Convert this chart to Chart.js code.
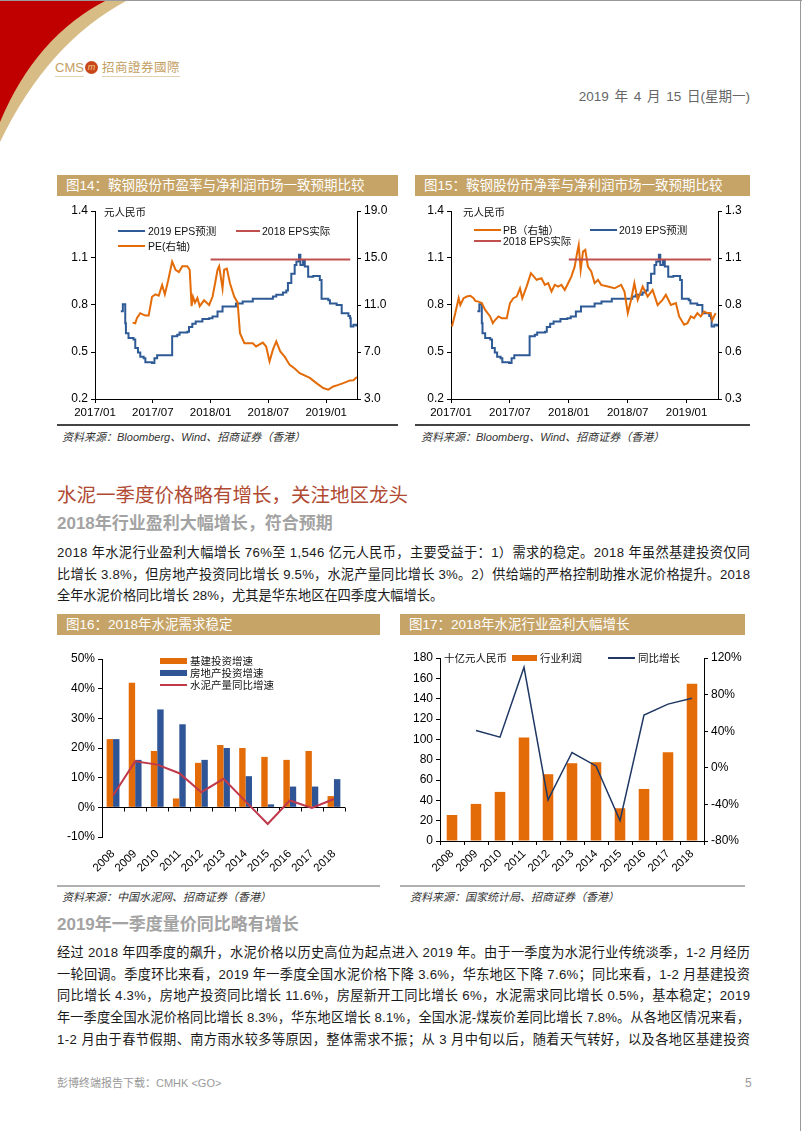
<!DOCTYPE html>
<html>
<head>
<meta charset="utf-8">
<script src="https://cdn.jsdelivr.net/npm/chart.js@4.4.1/dist/chart.umd.min.js"></script>
<style>
body { margin: 0; background: #fff; }
#page { position: relative; width: 802px; height: 1131px; overflow: hidden; background: #fff;
  font-family: "Liberation Sans", "Noto Sans CJK SC", sans-serif; color: #222; }
.t { position: absolute; white-space: nowrap; }
.hdr { position: absolute; height: 21px; background: #C6A467; color: #fff; font-size: 13.5px;
  line-height: 21px; padding-left: 9px; box-sizing: border-box; white-space: nowrap; }
.src { position: absolute; font-size: 11px; font-style: italic; color: #333; white-space: nowrap; line-height: 14px; }
.rule { position: absolute; }
.p { position: absolute; left: 57px; font-size: 13.2px; line-height: 20px; height: 20px;
  white-space: nowrap; color: #1a1a1a; }
.lg { position: absolute; font-size: 10.5px; line-height: 14px; white-space: nowrap; color: #111; }
.mk { position: absolute; }
canvas { position: absolute; }
</style>
</head>
<body>
<div id="page">
  <!-- corner decoration -->
  <svg class="t" style="left:0;top:0" width="160" height="160">
    <path d="M0,0 H128 Q48,42 0,142 Z" fill="#D8BC86"/>
    <path d="M0,0 H107 Q36,36 0,122 Z" fill="#C00000"/>
  </svg>
  <div style="position:absolute;left:0;top:0;width:802px;height:1px;background:#999"></div>
  <div style="position:absolute;left:800px;top:0;width:1px;height:1131px;background:#999"></div>

  <!-- logo -->
  <div class="t" style="left:55px;top:60px;font-size:13px;line-height:16px;color:#C4A064;border-bottom:1px solid #E3D3B0">CMS</div>
  <div class="t" style="left:85px;top:61px;width:13px;height:13px;border-radius:50%;background:#C8461A;color:#F6D08A;font-size:9px;line-height:13px;text-align:center;font-style:italic">m</div>
  <div class="t" style="left:102px;top:60px;font-size:12.5px;line-height:16px;color:#C4A064;letter-spacing:0.5px;border-bottom:1px solid #E3D3B0">招商證券國際</div>

  <div class="t" style="right:52px;top:89px;font-size:13.5px;line-height:16px;color:#666;word-spacing:2px">2019 年 4 月 15 日(星期一)</div>

  <!-- top chart headers -->
  <div class="hdr" style="left:57px;top:175px;width:341px">图14：鞍钢股份市盈率与净利润市场一致预期比较</div>
  <div class="hdr" style="left:415px;top:175px;width:335px">图15：鞍钢股份市净率与净利润市场一致预期比较</div>

  <canvas id="c14" width="343" height="220" style="left:57px;top:200px"></canvas>
  <canvas id="c15" width="343" height="220" style="left:407px;top:200px"></canvas>

  <!-- chart 14 legend -->
  <div class="lg" style="left:104px;top:205px">元人民币</div>
  <div class="mk" style="left:118px;top:230px;width:27px;height:2px;background:#2E5A96"></div>
  <div class="lg" style="left:148px;top:224px">2019 EPS预测</div>
  <div class="mk" style="left:236px;top:230px;width:24px;height:2px;background:#C0504D"></div>
  <div class="lg" style="left:262px;top:224px">2018 EPS实际</div>
  <div class="mk" style="left:118px;top:245px;width:27px;height:2px;background:#E36C09"></div>
  <div class="lg" style="left:148px;top:239px">PE(右轴)</div>

  <!-- chart 15 legend -->
  <div class="lg" style="left:463px;top:205px">元人民币</div>
  <div class="mk" style="left:474px;top:229px;width:27px;height:2px;background:#E36C09"></div>
  <div class="lg" style="left:503px;top:223px">PB（右轴）</div>
  <div class="mk" style="left:590px;top:229px;width:27px;height:2px;background:#2E5A96"></div>
  <div class="lg" style="left:619px;top:223px">2019 EPS预测</div>
  <div class="mk" style="left:474px;top:240px;width:27px;height:2px;background:#C0504D"></div>
  <div class="lg" style="left:503px;top:234px">2018 EPS实际</div>

  <div class="rule" style="left:57px;top:424px;width:341px;height:1.5px;background:#444"></div>
  <div class="rule" style="left:415px;top:424px;width:335px;height:1.5px;background:#444"></div>
  <div class="src" style="left:62px;top:430px">资料来源：Bloomberg、Wind、招商证券（香港）</div>
  <div class="src" style="left:421px;top:430px">资料来源：Bloomberg、Wind、招商证券（香港）</div>

  <!-- section text -->
  <div class="t" style="left:57px;top:481px;font-size:19.5px;line-height:28px;color:#B04A32">水泥一季度价格略有增长，关注地区龙头</div>
  <div class="t" style="left:57px;top:512px;font-size:17px;line-height:24px;color:#A3A3A3;font-weight:bold">2018年行业盈利大幅增长，符合预期</div>
  <div class="p fit" style="top:543px">2018 年水泥行业盈利大幅增长 76%至 1,546 亿元人民币，主要受益于：1）需求的稳定。2018 年虽然基建投资仅同</div>
  <div class="p fit" style="top:565px">比增长 3.8%，但房地产投资同比增长 9.5%，水泥产量同比增长 3%。2）供给端的严格控制助推水泥价格提升。2018</div>
  <div class="p" style="top:586px">全年水泥价格同比增长 28%，尤其是华东地区在四季度大幅增长。</div>

  <!-- bottom chart headers -->
  <div class="hdr" style="left:57px;top:614px;width:323px">图16：2018年水泥需求稳定</div>
  <div class="hdr" style="left:400px;top:614px;width:345px">图17：2018年水泥行业盈利大幅增长</div>

  <canvas id="c16" width="323" height="245" style="left:57px;top:640px"></canvas>
  <canvas id="c17" width="345" height="245" style="left:400px;top:640px"></canvas>

  <!-- chart 16 legend -->
  <div class="mk" style="left:160px;top:658px;width:27px;height:6px;background:#E36C09"></div>
  <div class="lg" style="left:190px;top:654px">基建投资增速</div>
  <div class="mk" style="left:160px;top:670px;width:27px;height:6px;background:#2F5597"></div>
  <div class="lg" style="left:190px;top:666px">房地产投资增速</div>
  <div class="mk" style="left:160px;top:684px;width:27px;height:2px;background:#C0394B"></div>
  <div class="lg" style="left:190px;top:678px">水泥产量同比增速</div>

  <!-- chart 17 legend -->
  <div class="lg" style="left:444px;top:651px">十亿元人民币</div>
  <div class="mk" style="left:512px;top:655px;width:25px;height:6px;background:#E36C09"></div>
  <div class="lg" style="left:540px;top:651px">行业利润</div>
  <div class="mk" style="left:608px;top:657px;width:27px;height:2px;background:#1F3864"></div>
  <div class="lg" style="left:638px;top:651px">同比增长</div>

  <div class="rule" style="left:57px;top:885px;width:323px;height:2px;background:#B0B0B0"></div>
  <div class="rule" style="left:400px;top:885px;width:345px;height:2px;background:#B0B0B0"></div>
  <div class="src" style="left:62px;top:890px">资料来源：中国水泥网、招商证券（香港）</div>
  <div class="src" style="left:410px;top:890px">资料来源：国家统计局、招商证券（香港）</div>

  <div class="t" style="left:57px;top:913px;font-size:17px;line-height:24px;color:#A3A3A3;font-weight:bold">2019年一季度量价同比略有增长</div>
  <div class="p fit" style="top:943px">经过 2018 年四季度的飙升，水泥价格以历史高位为起点进入 2019 年。由于一季度为水泥行业传统淡季，1-2 月经历</div>
  <div class="p fit" style="top:965px">一轮回调。季度环比来看，2019 年一季度全国水泥价格下降 3.6%，华东地区下降 7.6%；同比来看，1-2 月基建投资</div>
  <div class="p fit" style="top:986px">同比增长 4.3%，房地产投资同比增长 11.6%，房屋新开工同比增长 6%，水泥需求同比增长 0.5%，基本稳定；2019</div>
  <div class="p fit" style="top:1008px">年一季度全国水泥价格同比增长 8.3%，华东地区增长 8.1%，全国水泥-煤炭价差同比增长 7.8%。从各地区情况来看，</div>
  <div class="p fit" style="top:1030px">1-2 月由于春节假期、南方雨水较多等原因，整体需求不振；从 3 月中旬以后，随着天气转好，以及各地区基建投资</div>

  <div class="t" style="left:57px;top:1076px;font-size:11px;line-height:14px;color:#999">彭博终端报告下载：CMHK &lt;GO&gt;</div>
  <div class="t" style="left:745px;top:1076px;font-size:12px;line-height:14px;color:#999">5</div>
</div>

<script>
// ---- data: time series (x = months since 2017/01) ----
const monthTicks = ['2017/01', '2017/07', '2018/01', '2018/07', '2019/01'];

const epsMonths = [2.68, 2.89, 3.14, 3.21, 3.48, 4.0, 4.18, 4.46, 4.7, 5.05, 5.23, 5.92, 6.17, 6.45, 7.84, 8.01,
  8.54, 8.78, 9.58, 9.76, 10.1, 10.45, 11.15, 11.85, 12.2, 12.72, 13.24, 14.11, 14.63, 15.33, 16.38, 18.12,
  18.47, 18.82, 19.51, 19.86, 20.03, 20.38, 20.73, 20.91, 21.18, 21.32, 21.6, 21.78, 22.13, 22.65, 23.34,
  23.52, 24.22, 24.39, 25.09, 25.61, 26.31, 26.48, 26.55, 26.83, 27.11];
const epsValues = [0.76, 0.805, 0.684, 0.62, 0.59, 0.58, 0.525, 0.497, 0.47, 0.46, 0.434, 0.43, 0.46, 0.48, 0.48, 0.60,
  0.61, 0.625, 0.63, 0.66, 0.68, 0.695, 0.71, 0.716, 0.727, 0.759, 0.79, 0.79, 0.81, 0.822, 0.84, 0.84,
  0.854, 0.865, 0.88, 0.892, 0.94, 1.0, 1.056, 1.077, 1.12, 1.056, 1.088, 1.045, 0.98, 0.985, 0.96,
  0.84, 0.83, 0.81, 0.80, 0.748, 0.73, 0.716, 0.663, 0.674, 0.663];

const eps2018Months = [12, 26.5];
const eps2018Values = [1.09, 1.09];

const peMonths = [3.9, 4.18, 4.36, 4.7, 4.95, 5.23, 5.57, 5.75, 5.92, 6.27, 6.62, 6.97, 7.25, 7.6, 8.01, 8.36,
  8.71, 9.06, 9.58, 9.83, 10.03, 10.17, 10.38, 10.63, 10.87, 11.32, 11.85, 12.2, 12.47, 12.72, 12.89, 13.24,
  13.41, 13.69, 14.01, 14.46, 14.81, 15.05, 15.51, 16.38, 16.72, 17.42, 17.77, 18.12, 18.47, 18.82, 19.23,
  19.69, 20.21, 20.73, 21.25, 22.3, 22.99, 23.69, 24.22, 24.74, 25.26, 25.78, 26.48, 26.83, 27.2];
const peValues = [9.5, 9.45, 9.9, 10.3, 10.2, 10.1, 10.1, 10.9, 11.7, 11.9, 11.8, 12.7, 11.9, 13.1, 14.7, 14.0,
  13.8, 14.3, 14.3, 14.0, 10.9, 11.7, 11.2, 11.6, 10.9, 11.4, 11.0, 11.7, 12.85, 14.0, 14.3, 12.4,
  14.0, 14.1, 12.85, 11.7, 11.2, 8.6, 7.75, 7.75, 7.47, 7.8, 7.47, 6.2, 7.2, 7.9, 7.05,
  6.6, 5.9, 5.6, 5.2, 4.8, 4.35, 3.93, 3.8, 4.07, 4.2, 4.35, 4.58, 4.6, 4.87];

const pbMonths = [0.1, 0.44, 0.78, 0.95, 1.28, 1.62, 1.96, 2.3, 2.47, 2.8, 3.14, 3.48, 3.99, 4.26, 4.49, 4.83,
  5.17, 5.68, 6.01, 6.35, 6.69, 7.03, 7.26, 7.7, 8.14, 8.38, 8.72, 9.22, 9.56, 9.9, 10.24, 10.57, 10.91,
  11.25, 11.59, 11.93, 12.26, 12.6, 12.87, 13.01, 13.21, 13.45, 13.68, 13.95, 14.29, 14.63, 14.97, 15.3,
  15.98, 16.66, 17.33, 17.67, 18.01, 18.34, 18.68, 19.02, 19.53, 20.03, 20.54, 21.05, 21.55, 21.89, 22.4,
  22.91, 23.24, 23.75, 24.09, 24.43, 24.76, 25.1, 25.44, 25.78, 26.11, 26.45, 26.62, 26.96];
const pbValues = [0.686, 0.757, 0.836, 0.80, 0.836, 0.845, 0.849, 0.836, 0.822, 0.818, 0.81, 0.774, 0.739, 0.703, 0.72, 0.739,
  0.73, 0.73, 0.81, 0.836, 0.845, 0.889, 0.836, 0.898, 0.969, 0.955, 0.934, 0.942, 0.907, 0.916, 0.872, 0.907, 0.898,
  0.907, 0.88, 0.916, 0.951, 1.004, 1.084, 1.119, 0.987, 1.084, 1.093, 1.004, 0.978, 0.916, 0.934, 0.907,
  0.898, 0.889, 0.907, 0.872, 0.757, 0.827, 0.916, 0.827, 0.898, 0.845, 0.88, 0.80, 0.827, 0.854, 0.80,
  0.81, 0.739, 0.695, 0.703, 0.739, 0.73, 0.757, 0.739, 0.765, 0.757, 0.757, 0.72, 0.757];

// ---- data: annual series ----
const years = ['2008', '2009', '2010', '2011', '2012', '2013', '2014', '2015', '2016', '2017', '2018'];
const infraGrowth = [23, 42, 19, 3, 15, 21, 20, 17, 16, 19, 3.8];
const realEstateGrowth = [23, 16, 33, 28, 16, 20, 10.5, 1, 7, 7, 9.5];
const cementOutputGrowth = [4, 15.5, 14.4, 11.5, 5.1, 9.6, 2, -5.6, 2.3, -0.2, 2.8];
const industryProfit = [25.6, 36.5, 48.3, 101.8, 65.7, 76.5, 77.5, 32.2, 51.2, 87.4, 154.6];
const profitYoY = [null, 40.8, 33.5, 109.8, -35, 16.7, 2, -57.7, 57.6, 69.6, 76];

const ORANGE = '#E36C09', BLUE = '#2E5A96', RED = '#C0504D', NAVY = '#1F3864';

// stretch full paragraph lines to the text width (justified look)
document.querySelectorAll('.p.fit').forEach(el => {
  const n = Array.from(el.textContent).length;
  const w = el.getBoundingClientRect().width;
  el.style.letterSpacing = ((693 - w) / (n - 1)) + 'px';
});

Chart.defaults.font.family = '"Liberation Sans", "Noto Sans CJK SC", sans-serif';
Chart.defaults.font.size = 12;
Chart.defaults.color = '#000';

const pts = (xs, ys) => xs.map((x, i) => ({ x: x, y: ys[i] }));

function axisGrid() {
  return { drawOnChartArea: false, tickLength: 4, color: '#000', tickColor: '#000' };
}

function yAxis(pos, min, max, step, fmt, width) {
  return {
    position: pos, min: min, max: max,
    ticks: { stepSize: step, callback: fmt, padding: 3 },
    grid: axisGrid(), border: { color: '#000' },
    afterFit: s => { s.width = width; }
  };
}

function timeX() {
  return {
    type: 'linear', min: 0, max: 27.2,
    ticks: { stepSize: 6, includeBounds: false, maxRotation: 0, autoSkip: false,
      font: { size: 11.5 }, callback: v => monthTicks[v / 6] },
    grid: axisGrid(), border: { color: '#000' },
    afterFit: s => { s.height = 21; }
  };
}

const lineDs = (data, color, axis, extra) => Object.assign({
  data: data, borderColor: color, backgroundColor: color, borderWidth: 2,
  pointRadius: 0, yAxisID: axis, tension: 0
}, extra || {});

const baseOpts = { responsive: false, animation: false,
  plugins: { legend: { display: false }, tooltip: { enabled: false } } };

// 图14
new Chart(document.getElementById('c14'), {
  type: 'line',
  data: { datasets: [
    lineDs(pts(eps2018Months, eps2018Values), RED, 'y'),
    lineDs(pts(peMonths, peValues), ORANGE, 'y1'),
    lineDs(pts(epsMonths, epsValues), BLUE, 'y', { stepped: true })
  ] },
  options: Object.assign({}, baseOpts, {
    layout: { padding: { top: 11, left: 0, right: 0, bottom: 0 } },
    scales: {
      x: timeX(),
      y: yAxis('left', 0.2, 1.4, 0.3, v => v.toFixed(1), 38),
      y1: yAxis('right', 3, 19, 4, v => v.toFixed(1), 43)
    }
  })
});

// 图15
new Chart(document.getElementById('c15'), {
  type: 'line',
  data: { datasets: [
    lineDs(pts(eps2018Months, eps2018Values), RED, 'y'),
    lineDs(pts(pbMonths, pbValues), ORANGE, 'y1'),
    lineDs(pts(epsMonths, epsValues), BLUE, 'y', { stepped: true })
  ] },
  options: Object.assign({}, baseOpts, {
    layout: { padding: { top: 11, left: 0, right: 0, bottom: 0 } },
    scales: {
      x: timeX(),
      y: yAxis('left', 0.2, 1.4, 0.3, v => v.toFixed(1), 44),
      y1: yAxis('right', 0.3, 1.3, 0.25, v => v.toFixed(1), 32)
    }
  })
});

// zero line with small ticks for 图16
const zeroAxis = {
  id: 'zeroAxis',
  beforeDatasetsDraw(chart) {
    const a = chart.chartArea, ctx = chart.ctx;
    const y = Math.round(chart.scales.y.getPixelForValue(0)) + 0.5;
    const n = chart.data.labels.length;
    ctx.save();
    ctx.strokeStyle = '#000';
    ctx.lineWidth = 1;
    ctx.beginPath();
    ctx.moveTo(a.left, y);
    ctx.lineTo(a.right, y);
    for (let i = 0; i <= n; i++) {
      const x = Math.round(a.left + (a.right - a.left) * i / n) + 0.5;
      ctx.moveTo(x, y);
      ctx.lineTo(x, y + 4);
    }
    ctx.stroke();
    ctx.restore();
  }
};

const yearX = h => ({
  ticks: { minRotation: 45, maxRotation: 45, autoSkip: false, font: { size: 11.5 }, padding: 2 },
  afterFit: s => { s.height = h; }
});

// 图16
new Chart(document.getElementById('c16'), {
  type: 'bar',
  data: { labels: years, datasets: [
    { type: 'line', data: cementOutputGrowth, borderColor: '#C0394B', borderWidth: 2, pointRadius: 0, order: 0 },
    { data: infraGrowth, backgroundColor: ORANGE, barPercentage: 1, categoryPercentage: 0.58, order: 1 },
    { data: realEstateGrowth, backgroundColor: '#2F5597', barPercentage: 1, categoryPercentage: 0.58, order: 1 }
  ] },
  options: Object.assign({}, baseOpts, {
    layout: { padding: { top: 19, left: 0, right: 35, bottom: 0 } },
    scales: {
      x: Object.assign(yearX(48), { grid: { display: false }, border: { display: false } }),
      y: yAxis('left', -10, 50, 10, v => v + '%', 45)
    }
  }),
  plugins: [zeroAxis]
});

// 图17
new Chart(document.getElementById('c17'), {
  type: 'bar',
  data: { labels: years, datasets: [
    { type: 'line', data: profitYoY, borderColor: NAVY, borderWidth: 1.5, pointRadius: 0, yAxisID: 'y1', order: 0 },
    { data: industryProfit, backgroundColor: ORANGE, barPercentage: 1, categoryPercentage: 0.44, yAxisID: 'y', order: 1 }
  ] },
  options: Object.assign({}, baseOpts, {
    layout: { padding: { top: 18, left: 0, right: 0, bottom: 0 } },
    scales: {
      x: Object.assign(yearX(44), { grid: { drawOnChartArea: false, tickLength: 4, color: '#000', offset: true }, border: { color: '#000' } }),
      y: yAxis('left', 0, 180, 20, v => v, 40),
      y1: yAxis('right', -80, 120, 40, v => v + '%', 41)
    }
  })
});
</script>
</body>
</html>
